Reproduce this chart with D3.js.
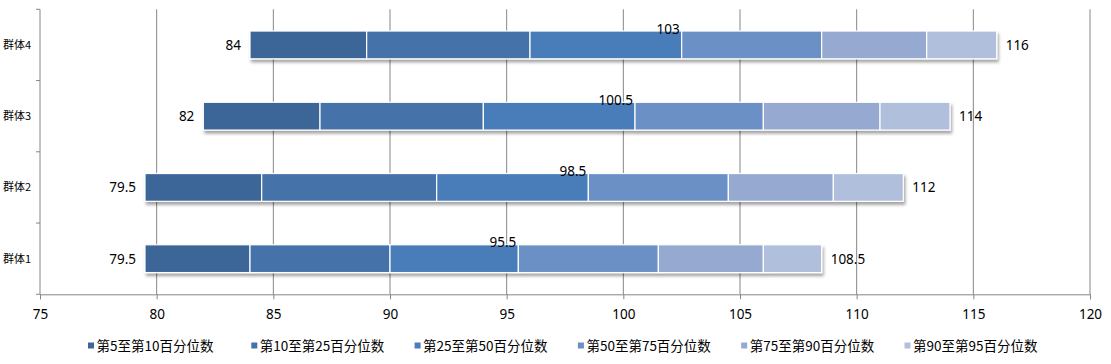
<!DOCTYPE html>
<html>
<head>
<meta charset="utf-8">
<script src="https://cdn.jsdelivr.net/npm/d3@7"></script>
<style>
	body { margin: 0; background: #fff; }
	svg text { font-family: "Noto Sans", "Noto Sans CJK SC", sans-serif; fill: #000; }
</style>
</head>
<body>
<svg id="chart" width="1111" height="364"></svg>
<script>
	// categories, top to bottom as drawn
	var groups = ['群体4', '群体3', '群体2', '群体1'];

	var series_names = ['第5至第10百分位数', '第10至第25百分位数', '第25至第50百分位数',
		'第50至第75百分位数', '第75至第90百分位数', '第90至第95百分位数'];

	var series_colors = ['#3e6698', '#4573a9', '#4a7db9', '#6b90c5', '#95a9d1', '#b0c0dc'];

	// percentile values per group (P5, P10, P25, P50, P75, P90, P95)
	var p5  = [84, 82, 79.5, 79.5];
	var p10 = [89, 87, 84.5, 84];
	var p25 = [96, 94, 92, 90];
	var p50 = [102.5, 100.5, 98.5, 95.5];
	var p75 = [108.5, 106, 104.5, 101.5];
	var p90 = [113, 111, 109, 106];
	var p95 = [116, 114, 112, 108.5];

	// text shown on the median
	var median_labels = ['103', '100.5', '98.5', '95.5'];

	var x_ticks = [75, 80, 85, 90, 95, 100, 105, 110, 115, 120];

(function (d3) {

	var svg = d3.select('#chart');

	var plot_left = 40, plot_right = 1090, plot_top = 9.3, plot_bottom = 294.3;

	var x = d3.scaleLinear().domain([75, 120]).range([plot_left, plot_right]);
	var y = d3.scaleBand().domain(groups).range([plot_top, plot_bottom]).paddingInner(0.61).paddingOuter(0.305);

	var defs = svg.append('defs');
	var shadow = defs.append('filter').attr('id', 'shadow')
		.attr('x', '-5%').attr('y', '-30%').attr('width', '110%').attr('height', '170%');
	shadow.append('feDropShadow')
		.attr('dx', 1.5).attr('dy', 3).attr('stdDeviation', 1.6)
		.attr('flood-color', '#000').attr('flood-opacity', 0.35);

	// gridlines
	svg.append('g').selectAll('line')
		.data(x_ticks.slice(1))
		.join('line')
		.attr('x1', function(d) { return x(d); })
		.attr('x2', function(d) { return x(d); })
		.attr('y1', plot_top).attr('y2', plot_bottom)
		.attr('stroke', '#868686').attr('stroke-width', 1);

	// x axis
	var x_axis = svg.append('g')
		.attr('transform', 'translate(0,' + plot_bottom + ')')
		.call(d3.axisBottom(x).tickValues(x_ticks).tickSize(5).tickPadding(10));
	x_axis.select('.domain').attr('stroke', '#868686');
	x_axis.selectAll('.tick line').attr('stroke', '#868686');
	x_axis.selectAll('text').style('font-size', '13.5px').attr('fill', '#000');

	// y axis line with ticks between categories
	var y_axis = svg.append('g');
	y_axis.append('line')
		.attr('x1', plot_left).attr('x2', plot_left).attr('y1', plot_top).attr('y2', plot_bottom)
		.attr('stroke', '#868686');
	var band_step = y.step();
	y_axis.selectAll('line.tk')
		.data(d3.range(groups.length + 1))
		.join('line')
		.attr('class', 'tk')
		.attr('x1', plot_left - 4).attr('x2', plot_left)
		.attr('y1', function(i) { return plot_top + i * band_step; })
		.attr('y2', function(i) { return plot_top + i * band_step; })
		.attr('stroke', '#868686');
	y_axis.selectAll('text')
		.data(groups)
		.join('text')
		.attr('x', 3)
		.attr('y', function(d) { return y(d) + y.bandwidth() / 2; })
		.attr('dy', '0.35em')
		.style('font-family', '"Noto Sans CJK SC", sans-serif')
		.style('font-size', '11px')
		.text(function(d) { return d; });

	// stacked segments
	var bounds = [p5, p10, p25, p50, p75, p90, p95];
	var rows = groups.map(function(g, i) {
		return {
			group: g,
			segs: series_names.map(function(s, k) {
				return { k: k, group: g, from: bounds[k][i], to: bounds[k + 1][i] };
			}),
			start: p5[i],
			end: p95[i],
			median: p50[i],
			median_label: median_labels[i]
		};
	});

	var bar_groups = svg.append('g').selectAll('g')
		.data(rows)
		.join('g')
		.attr('filter', 'url(#shadow)');

	bar_groups.selectAll('rect')
		.data(function(d) { return d.segs; })
		.join('rect')
		.attr('x', function(s) { return x(s.from); })
		.attr('y', function(s) { return y(s.group); })
		.attr('width', function(s) { return x(s.to) - x(s.from); })
		.attr('height', y.bandwidth())
		.attr('fill', function(s) { return series_colors[s.k]; })
		.attr('stroke', '#fff')
		.attr('stroke-width', 1.2);

	var labels = svg.append('g').style('font-size', '13.5px');

	labels.selectAll('text.start')
		.data(rows)
		.join('text')
		.attr('class', 'start')
		.attr('x', function(d) { return x(d.start) - 9; })
		.attr('y', function(d) { return y(d.group) + y.bandwidth() / 2; })
		.attr('dy', '0.36em')
		.attr('text-anchor', 'end')
		.text(function(d) { return d.start; });

	labels.selectAll('text.end')
		.data(rows)
		.join('text')
		.attr('class', 'end')
		.attr('x', function(d) { return x(d.end) + 9; })
		.attr('y', function(d) { return y(d.group) + y.bandwidth() / 2; })
		.attr('dy', '0.36em')
		.text(function(d) { return d.end; });

	labels.selectAll('text.mid')
		.data(rows)
		.join('text')
		.attr('class', 'mid')
		.attr('x', function(d) { return x(d.median) - 2; })
		.attr('y', function(d) { return y(d.group); })
		.attr('dy', '0.2em')
		.attr('text-anchor', 'end')
		.text(function(d) { return d.median_label; });

	// legend
	var legend = svg.append('g').attr('transform', 'translate(0,346)');
	var item = legend.selectAll('g')
		.data(series_names)
		.join('g')
		.attr('transform', function(d, i) { return 'translate(' + (88 + i * 163.3) + ',0)'; });
	item.append('rect')
		.attr('x', 0).attr('y', -3.5).attr('width', 6).attr('height', 6)
		.attr('fill', function(d, i) { return series_colors[i]; });
	item.append('text')
		.attr('x', 8.5).attr('dy', '0.35em')
		.style('font-family', '"Noto Sans CJK SC", sans-serif')
		.style('font-size', '13.5px')
		.text(function(d) { return d; });

}(d3));
</script>
</body>
</html>
